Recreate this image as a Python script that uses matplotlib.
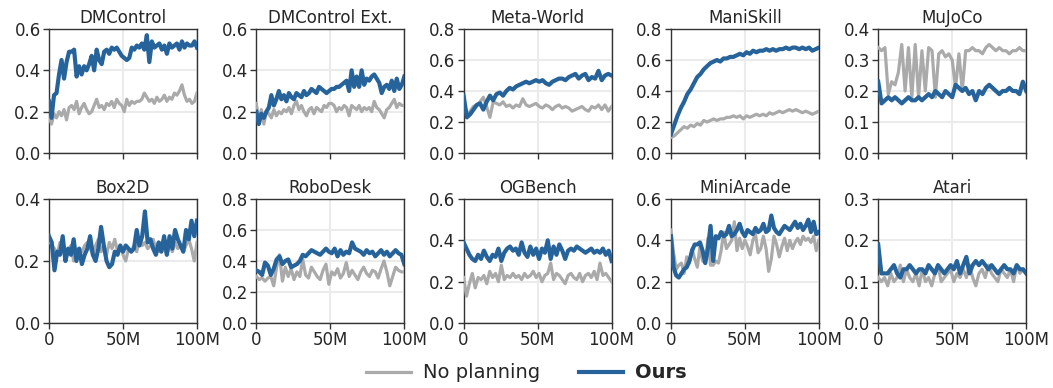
import numpy as np
import matplotlib
matplotlib.use("Agg")
import matplotlib.pyplot as plt
from matplotlib.lines import Line2D

# Benchmark suites shown in the grid (row-major)
suites = ["DMControl", "DMControl Ext.", "Meta-World", "ManiSkill", "MuJoCo",
          "Box2D", "RoboDesk", "OGBench", "MiniArcade", "Atari"]
y_max = [0.6, 0.6, 0.8, 0.8, 0.4, 0.4, 0.8, 0.6, 0.6, 0.3]
y_step = [0.2, 0.2, 0.2, 0.2, 0.1, 0.2, 0.2, 0.2, 0.2, 0.1]
x_ticks = [0, 50, 100]
x_tick_labels = ["0", "50M", "100M"]

# Normalized score over training steps (0 to 100M), per suite
ours_dmcontrol = [0.25, 0.17, 0.28, 0.29, 0.38, 0.45, 0.36, 0.44, 0.49, 0.49, 0.50, 0.37, 0.42, 0.38, 0.42,
                  0.40, 0.43, 0.47, 0.40, 0.50, 0.45, 0.43, 0.49, 0.50, 0.48, 0.51, 0.50, 0.51, 0.49, 0.47,
                  0.46, 0.45, 0.46, 0.51, 0.50, 0.52, 0.51, 0.53, 0.50, 0.57, 0.44, 0.54, 0.51, 0.52, 0.53,
                  0.50, 0.52, 0.48, 0.53, 0.51, 0.52, 0.53, 0.50, 0.54, 0.51, 0.53, 0.52, 0.52, 0.54, 0.51]
base_dmcontrol = [0.18, 0.14, 0.19, 0.17, 0.20, 0.18, 0.21, 0.16, 0.22, 0.23, 0.21, 0.25, 0.19, 0.22, 0.24,
                  0.21, 0.19, 0.20, 0.23, 0.26, 0.22, 0.23, 0.21, 0.24, 0.23, 0.25, 0.22, 0.26, 0.24, 0.23,
                  0.20, 0.26, 0.23, 0.25, 0.24, 0.25, 0.25, 0.26, 0.29, 0.27, 0.25, 0.26, 0.24, 0.27, 0.25,
                  0.26, 0.28, 0.25, 0.27, 0.26, 0.29, 0.28, 0.30, 0.33, 0.28, 0.25, 0.26, 0.24, 0.25, 0.29]

ours_dmc_ext = [0.20, 0.14, 0.19, 0.17, 0.20, 0.22, 0.28, 0.23, 0.26, 0.30, 0.26, 0.28, 0.25, 0.29, 0.27,
                0.26, 0.29, 0.28, 0.27, 0.30, 0.28, 0.29, 0.31, 0.30, 0.29, 0.32, 0.31, 0.30, 0.29, 0.30,
                0.31, 0.31, 0.32, 0.32, 0.33, 0.34, 0.35, 0.30, 0.40, 0.32, 0.37, 0.32, 0.40, 0.33, 0.36,
                0.35, 0.37, 0.38, 0.36, 0.34, 0.29, 0.32, 0.33, 0.31, 0.35, 0.30, 0.36, 0.31, 0.33, 0.37]
base_dmc_ext = [0.24, 0.15, 0.21, 0.14, 0.20, 0.19, 0.17, 0.21, 0.18, 0.20, 0.19, 0.21, 0.20, 0.22, 0.19,
                0.23, 0.25, 0.21, 0.23, 0.20, 0.18, 0.21, 0.22, 0.19, 0.22, 0.21, 0.20, 0.23, 0.22, 0.24,
                0.24, 0.23, 0.20, 0.22, 0.21, 0.23, 0.22, 0.18, 0.23, 0.22, 0.21, 0.23, 0.20, 0.22, 0.21,
                0.22, 0.20, 0.25, 0.22, 0.21, 0.19, 0.17, 0.21, 0.22, 0.24, 0.26, 0.22, 0.24, 0.23, 0.23]

ours_metaworld = [0.37, 0.23, 0.25, 0.28, 0.31, 0.32, 0.28, 0.33, 0.37, 0.34, 0.38, 0.39, 0.37, 0.40, 0.42,
                  0.41, 0.43, 0.44, 0.45, 0.46, 0.45, 0.46, 0.47, 0.46, 0.47, 0.45, 0.44, 0.46, 0.47, 0.48,
                  0.48, 0.47, 0.49, 0.50, 0.51, 0.48, 0.50, 0.51, 0.47, 0.49, 0.48, 0.53, 0.47, 0.50, 0.51, 0.50]
base_metaworld = [0.30, 0.25, 0.27, 0.30, 0.31, 0.33, 0.36, 0.30, 0.23, 0.33, 0.32, 0.31, 0.33, 0.30, 0.31,
                  0.29, 0.31, 0.30, 0.35, 0.31, 0.30, 0.31, 0.32, 0.30, 0.29, 0.31, 0.30, 0.28, 0.30, 0.31,
                  0.29, 0.30, 0.29, 0.27, 0.28, 0.29, 0.30, 0.28, 0.27, 0.30, 0.29, 0.31, 0.28, 0.31, 0.27, 0.30]

ours_maniskill = [0.12, 0.18, 0.24, 0.29, 0.33, 0.38, 0.41, 0.45, 0.49, 0.51, 0.54, 0.56, 0.58, 0.59, 0.60,
                  0.59, 0.61, 0.61, 0.62, 0.62, 0.63, 0.64, 0.63, 0.65, 0.64, 0.66, 0.65, 0.66, 0.66, 0.67,
                  0.66, 0.67, 0.66, 0.67, 0.67, 0.68, 0.67, 0.68, 0.68, 0.67, 0.68, 0.67, 0.68, 0.66, 0.67, 0.68]
base_maniskill = [0.10, 0.11, 0.13, 0.15, 0.17, 0.16, 0.18, 0.17, 0.19, 0.18, 0.21, 0.20, 0.21, 0.22, 0.21,
                  0.22, 0.22, 0.23, 0.23, 0.24, 0.23, 0.24, 0.22, 0.24, 0.23, 0.24, 0.25, 0.24, 0.25, 0.24,
                  0.26, 0.25, 0.26, 0.27, 0.26, 0.27, 0.28, 0.27, 0.28, 0.27, 0.26, 0.27, 0.26, 0.25, 0.26, 0.27]

ours_mujoco = [0.23, 0.16, 0.17, 0.18, 0.17, 0.18, 0.17, 0.16, 0.17, 0.18, 0.17, 0.17, 0.18, 0.17, 0.18,
               0.19, 0.18, 0.20, 0.19, 0.18, 0.20, 0.19, 0.18, 0.22, 0.21, 0.20, 0.21, 0.19, 0.20, 0.17,
               0.20, 0.19, 0.21, 0.22, 0.21, 0.20, 0.19, 0.20, 0.20, 0.21, 0.20, 0.20, 0.19, 0.23, 0.20]
base_mujoco = [0.34, 0.33, 0.34, 0.19, 0.23, 0.22, 0.26, 0.35, 0.20, 0.34, 0.18, 0.35, 0.18, 0.33, 0.20,
               0.34, 0.33, 0.18, 0.32, 0.33, 0.31, 0.32, 0.30, 0.21, 0.32, 0.20, 0.33, 0.33, 0.34, 0.33,
               0.33, 0.32, 0.34, 0.35, 0.34, 0.33, 0.34, 0.33, 0.33, 0.32, 0.33, 0.33, 0.34, 0.33, 0.33]

ours_box2d = [0.28, 0.26, 0.17, 0.23, 0.22, 0.28, 0.20, 0.24, 0.22, 0.27, 0.20, 0.24, 0.19, 0.22, 0.24,
              0.28, 0.22, 0.20, 0.24, 0.31, 0.25, 0.20, 0.18, 0.19, 0.23, 0.22, 0.25, 0.23, 0.25, 0.24,
              0.23, 0.24, 0.30, 0.25, 0.28, 0.36, 0.26, 0.27, 0.24, 0.22, 0.26, 0.23, 0.28, 0.22, 0.28,
              0.24, 0.30, 0.27, 0.25, 0.23, 0.30, 0.27, 0.33, 0.28, 0.33]
base_box2d = [0.27, 0.25, 0.24, 0.22, 0.26, 0.24, 0.21, 0.23, 0.25, 0.20, 0.22, 0.24, 0.23, 0.25, 0.26,
              0.24, 0.22, 0.25, 0.27, 0.23, 0.25, 0.22, 0.26, 0.24, 0.27, 0.23, 0.25, 0.22, 0.20, 0.24,
              0.23, 0.25, 0.23, 0.27, 0.25, 0.26, 0.24, 0.25, 0.27, 0.24, 0.23, 0.26, 0.24, 0.22, 0.25,
              0.23, 0.26, 0.24, 0.25, 0.23, 0.25, 0.27, 0.24, 0.20, 0.26]

ours_robodesk = [0.34, 0.33, 0.31, 0.39, 0.37, 0.31, 0.35, 0.41, 0.43, 0.38, 0.40, 0.41, 0.36, 0.37, 0.38,
                 0.40, 0.44, 0.43, 0.45, 0.47, 0.46, 0.45, 0.44, 0.46, 0.48, 0.46, 0.45, 0.48, 0.43, 0.47,
                 0.44, 0.46, 0.45, 0.52, 0.48, 0.47, 0.46, 0.44, 0.47, 0.45, 0.46, 0.43, 0.45, 0.47, 0.44,
                 0.46, 0.43, 0.45, 0.47, 0.45, 0.44, 0.38]
base_robodesk = [0.30, 0.28, 0.29, 0.27, 0.29, 0.30, 0.24, 0.36, 0.44, 0.27, 0.36, 0.30, 0.35, 0.28, 0.33,
                 0.30, 0.41, 0.31, 0.29, 0.36, 0.33, 0.30, 0.28, 0.34, 0.38, 0.25, 0.33, 0.31, 0.35, 0.29,
                 0.32, 0.39, 0.30, 0.34, 0.31, 0.28, 0.33, 0.36, 0.32, 0.30, 0.34, 0.33, 0.29, 0.35, 0.40,
                 0.33, 0.24, 0.30, 0.36, 0.34, 0.33, 0.33]

ours_ogbench = [0.39, 0.36, 0.33, 0.31, 0.30, 0.33, 0.31, 0.35, 0.32, 0.30, 0.33, 0.32, 0.36, 0.30, 0.34,
                0.36, 0.37, 0.35, 0.36, 0.33, 0.39, 0.34, 0.32, 0.37, 0.33, 0.36, 0.31, 0.36, 0.34, 0.40,
                0.31, 0.37, 0.33, 0.38, 0.35, 0.31, 0.35, 0.36, 0.35, 0.37, 0.36, 0.35, 0.34, 0.35, 0.36,
                0.34, 0.35, 0.34, 0.36, 0.33, 0.35, 0.30]
base_ogbench = [0.22, 0.13, 0.19, 0.24, 0.17, 0.22, 0.21, 0.23, 0.19, 0.25, 0.22, 0.24, 0.20, 0.28, 0.21,
                0.23, 0.22, 0.24, 0.22, 0.23, 0.21, 0.24, 0.22, 0.23, 0.25, 0.22, 0.24, 0.20, 0.23, 0.24,
                0.29, 0.21, 0.24, 0.23, 0.21, 0.19, 0.23, 0.24, 0.22, 0.21, 0.24, 0.20, 0.23, 0.24, 0.22,
                0.25, 0.21, 0.29, 0.23, 0.24, 0.22, 0.20]

ours_miniarcade = [0.42, 0.27, 0.23, 0.22, 0.24, 0.26, 0.27, 0.30, 0.35, 0.38, 0.38, 0.39, 0.35, 0.29, 0.36,
                   0.47, 0.30, 0.42, 0.41, 0.44, 0.42, 0.43, 0.47, 0.42, 0.43, 0.45, 0.48, 0.44, 0.42, 0.45,
                   0.44, 0.43, 0.46, 0.44, 0.45, 0.48, 0.44, 0.45, 0.52, 0.46, 0.44, 0.43, 0.45, 0.47, 0.46,
                   0.45, 0.47, 0.49, 0.46, 0.48, 0.45, 0.47, 0.50, 0.44, 0.49, 0.43, 0.44]
base_miniarcade = [0.45, 0.34, 0.26, 0.28, 0.29, 0.24, 0.32, 0.29, 0.36, 0.31, 0.27, 0.37, 0.30, 0.29, 0.41,
                   0.28, 0.28, 0.30, 0.29, 0.35, 0.44, 0.36, 0.38, 0.40, 0.49, 0.35, 0.41, 0.36, 0.40, 0.37,
                   0.33, 0.40, 0.43, 0.34, 0.36, 0.42, 0.36, 0.25, 0.31, 0.42, 0.38, 0.32, 0.37, 0.41, 0.35,
                   0.40, 0.36, 0.39, 0.41, 0.38, 0.42, 0.40, 0.41, 0.39, 0.42, 0.35, 0.40]

ours_atari = [0.19, 0.12, 0.12, 0.12, 0.13, 0.14, 0.12, 0.11, 0.13, 0.13, 0.14, 0.13, 0.12, 0.13, 0.13,
              0.12, 0.14, 0.13, 0.12, 0.14, 0.13, 0.12, 0.13, 0.14, 0.13, 0.15, 0.12, 0.14, 0.16, 0.12,
              0.14, 0.15, 0.14, 0.15, 0.14, 0.13, 0.14, 0.13, 0.12, 0.13, 0.14, 0.13, 0.13, 0.12, 0.14,
              0.13, 0.13, 0.12]
base_atari = [0.11, 0.10, 0.11, 0.09, 0.12, 0.10, 0.11, 0.14, 0.10, 0.13, 0.11, 0.10, 0.12, 0.09, 0.13,
              0.10, 0.11, 0.09, 0.12, 0.14, 0.10, 0.11, 0.12, 0.13, 0.10, 0.12, 0.11, 0.13, 0.11, 0.14,
              0.11, 0.09, 0.12, 0.13, 0.11, 0.14, 0.12, 0.11, 0.10, 0.13, 0.12, 0.11, 0.13, 0.10, 0.14,
              0.12, 0.13, 0.12]

ours_curves = [ours_dmcontrol, ours_dmc_ext, ours_metaworld, ours_maniskill, ours_mujoco,
               ours_box2d, ours_robodesk, ours_ogbench, ours_miniarcade, ours_atari]
base_curves = [base_dmcontrol, base_dmc_ext, base_metaworld, base_maniskill, base_mujoco,
               base_box2d, base_robodesk, base_ogbench, base_miniarcade, base_atari]

OURS_COLOR = "#27639b"
BASE_COLOR = "#aaaaaa"
TEXT_COLOR = "#262626"

plt.rcParams["font.family"] = ["DejaVu Sans"]
fig = plt.figure(figsize=(10.53, 3.88), dpi=100)

W, H = 1053, 388
left0, col_gap, ax_w, ax_h = 49, 207.3, 148, 124
row_tops = [29, 199]

for i, name in enumerate(suites):
    r, c = divmod(i, 5)
    x0 = left0 + c * col_gap
    y_top = row_tops[r]
    ax = fig.add_axes([x0 / W, 1 - (y_top + ax_h) / H, ax_w / W, ax_h / H])

    base = base_curves[i]
    ours = ours_curves[i]
    ax.plot(np.linspace(0, 100, len(base)), base, color=BASE_COLOR, lw=2.3, zorder=3)
    ax.plot(np.linspace(0, 100, len(ours)), ours, color=OURS_COLOR, lw=3.0, zorder=4)

    ax.set_xlim(0, 100)
    ax.set_ylim(0, y_max[i])
    yt = np.arange(0, y_max[i] + 1e-9, y_step[i])
    ax.set_yticks(yt)
    ax.set_yticklabels([f"{v:.1f}" for v in yt])
    ax.set_xticks(x_ticks)
    if r == 1:
        ax.set_xticklabels(x_tick_labels)
    else:
        ax.set_xticklabels([])

    ax.grid(True, color="#ebebeb", lw=1.5, zorder=0)
    ax.set_axisbelow(True)
    for s in ax.spines.values():
        s.set_color("#333333")
        s.set_linewidth(1.0)
    ax.tick_params(axis="both", direction="out", length=4, width=1.0, color="#333333",
                   labelsize=12, labelcolor=TEXT_COLOR, pad=2)
    ax.set_title(name, fontsize=12, color=TEXT_COLOR, pad=4)

handles = [Line2D([], [], color=BASE_COLOR, lw=2.3),
           Line2D([], [], color=OURS_COLOR, lw=3.0)]
leg = fig.legend(handles, ["No planning", "Ours"], loc="center", ncol=2,
                 bbox_to_anchor=(0.5, 1 - 373 / H), frameon=False, fontsize=14,
                 handlelength=2.3, columnspacing=2.0, handletextpad=0.6)
for t in leg.get_texts():
    t.set_color(TEXT_COLOR)
leg.get_texts()[1].set_fontweight("bold")

fig.savefig("out.png", dpi=100)
